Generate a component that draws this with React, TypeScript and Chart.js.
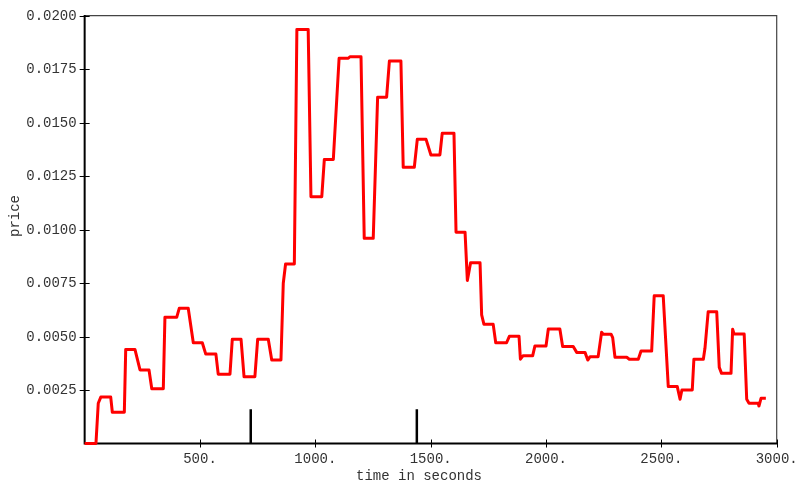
import React, { useEffect, useRef } from "react";
import { Chart, registerables } from "chart.js";

Chart.register(...registerables);

const times = [
  0, 49, 59, 70, 113, 120, 172, 178, 218, 240, 279, 291, 341, 348, 399, 410, 449, 471, 510, 525,
  569, 579, 630, 640, 678, 691, 738, 750, 796, 811, 851, 861, 871, 909, 920, 969, 981, 1028, 1039, 1078,
  1103, 1143, 1150, 1198, 1212, 1251, 1270, 1309, 1321, 1371, 1381, 1429, 1442, 1480, 1501, 1540, 1550, 1601, 1610, 1649,
  1659, 1673, 1714, 1721, 1731, 1771, 1782, 1829, 1841, 1883, 1889, 1900, 1942, 1952, 2000, 2010, 2060, 2072, 2118, 2133,
  2169, 2181, 2191, 2226, 2241, 2248, 2282, 2289, 2299, 2350, 2361, 2400, 2412, 2458, 2469, 2508, 2530, 2569, 2581, 2589,
  2634, 2641, 2682, 2689, 2703, 2740, 2751, 2761, 2802, 2809, 2815, 2859, 2870, 2880, 2920, 2923, 2932, 2953,
];

const prices = [
  0, 0, 0.00188, 0.00217, 0.00217, 0.00146, 0.00146, 0.0044, 0.0044, 0.00344, 0.00344, 0.00256, 0.00256, 0.0059, 0.0059, 0.00632, 0.00632, 0.00471, 0.00471, 0.00418,
  0.00418, 0.00324, 0.00324, 0.00487, 0.00487, 0.00312, 0.00312, 0.00487, 0.00487, 0.0039, 0.0039, 0.00749, 0.00839, 0.00839, 0.01936, 0.01936, 0.01154, 0.01154, 0.01328, 0.01328,
  0.01801, 0.01801, 0.01808, 0.01808, 0.00959, 0.00959, 0.01619, 0.01619, 0.01788, 0.01788, 0.01291, 0.01291, 0.01422, 0.01422, 0.01349, 0.01349, 0.0145, 0.0145, 0.00988, 0.00988,
  0.00762, 0.00845, 0.00845, 0.00601, 0.00557, 0.00557, 0.00471, 0.00471, 0.00501, 0.00501, 0.00394, 0.0041, 0.0041, 0.00456, 0.00456, 0.00535, 0.00535, 0.00453, 0.00453, 0.00426,
  0.00426, 0.0039, 0.00406, 0.00406, 0.0052, 0.00511, 0.00511, 0.00495, 0.00403, 0.00403, 0.00394, 0.00394, 0.00432, 0.00432, 0.00691, 0.00691, 0.00266, 0.00266, 0.00207, 0.0025,
  0.0025, 0.00394, 0.00394, 0.00445, 0.00616, 0.00616, 0.00356, 0.00328, 0.00328, 0.00534, 0.00512, 0.00512, 0.00207, 0.00188, 0.00188, 0.00175, 0.00211, 0.00211,
];

const markerTimes = [720, 1440];
const markerHeight = 0.0016;

const xTicks = [500, 1000, 1500, 2000, 2500, 3000];
const xTickLabels = ["500.", "1000.", "1500.", "2000.", "2500.", "3000."];
const yTicks = [0.0025, 0.005, 0.0075, 0.01, 0.0125, 0.015, 0.0175, 0.02];
const yTickLabels = ["0.0025", "0.0050", "0.0075", "0.0100", "0.0125", "0.0150", "0.0175", "0.0200"];
const xTitle = "time in seconds";
const yTitle = "price";

const FONT = '14px "Liberation Mono", "DejaVu Sans Mono", monospace';
const TEXT = "#333333";

export default function App() {
  const ref = useRef<HTMLCanvasElement>(null);

  useEffect(() => {
    if (!ref.current) return;

    const frame = {
      id: "frame",
      beforeDatasetsDraw(chart: any) {
        const { ctx, chartArea, scales } = chart;
        const { left, right, top, bottom } = chartArea;
        ctx.save();
        // top & right frame
        ctx.strokeStyle = "#444444";
        ctx.lineWidth = 1.2;
        ctx.beginPath();
        ctx.moveTo(left, top);
        ctx.lineTo(right, top);
        ctx.lineTo(right, bottom);
        ctx.stroke();
        // axes
        ctx.strokeStyle = "#000000";
        ctx.lineWidth = 2;
        ctx.beginPath();
        ctx.moveTo(left, top - 0.6);
        ctx.lineTo(left, bottom);
        ctx.lineTo(right + 1, bottom);
        ctx.stroke();
        // ticks
        ctx.lineWidth = 1;
        ctx.beginPath();
        yTicks.forEach((v) => {
          const y = Math.round(scales.y.getPixelForValue(v)) + 0.5;
          ctx.moveTo(left - 5, y);
          ctx.lineTo(left + 5, y);
        });
        xTicks.forEach((v) => {
          const x = Math.round(scales.x.getPixelForValue(v)) + 0.5;
          ctx.moveTo(x, bottom - 4);
          ctx.lineTo(x, bottom + 4);
        });
        ctx.stroke();
        // labels
        ctx.fillStyle = TEXT;
        ctx.font = FONT;
        ctx.textAlign = "right";
        ctx.textBaseline = "middle";
        yTicks.forEach((v, i) => {
          ctx.fillText(yTickLabels[i], left - 8, scales.y.getPixelForValue(v) + 0.5);
        });
        ctx.textAlign = "center";
        ctx.textBaseline = "alphabetic";
        xTicks.forEach((v, i) => {
          ctx.fillText(xTickLabels[i], scales.x.getPixelForValue(v), bottom + 19);
        });
        ctx.fillText(xTitle, 419, 480);
        ctx.save();
        ctx.translate(19, 216);
        ctx.rotate(-Math.PI / 2);
        ctx.fillText(yTitle, 0, 0);
        ctx.restore();
        ctx.restore();
      },
    };

    const markerData: any[] = [];
    markerTimes.forEach((t) => {
      markerData.push({ x: t, y: 0 });
      markerData.push({ x: t, y: markerHeight });
      markerData.push({ x: t, y: null });
    });

    const chart = new Chart(ref.current, {
      type: "line",
      data: {
        datasets: [
          {
            label: "price",
            data: times.map((t, i) => ({ x: t, y: prices[i] })),
            borderColor: "#ff0000",
            borderWidth: 3,
            pointRadius: 0,
            tension: 0,
            borderJoinStyle: "round",
            clip: false,
          },
          {
            label: "markers",
            data: markerData,
            borderColor: "#000000",
            borderWidth: 2.5,
            pointRadius: 0,
            spanGaps: false,
            clip: false,
          },
        ],
      },
      options: {
        responsive: false,
        animation: false,
        devicePixelRatio: 1,
        layout: { padding: { left: 84.65, right: 22.3, top: 15.7, bottom: 41.5 } },
        plugins: { legend: { display: false }, tooltip: { enabled: false }, title: { display: false } },
        scales: {
          x: { type: "linear", min: 0, max: 3000, display: false },
          y: { type: "linear", min: 0, max: 0.02, display: false },
        },
      },
      plugins: [frame],
    } as any);

    return () => chart.destroy();
  }, []);

  return (
    <div style={{ position: "fixed", left: 0, top: 0, width: 799, height: 485, background: "#fff" }}>
      <canvas ref={ref} width={799} height={485} style={{ width: 799, height: 485, display: "block" }} />
    </div>
  );
}
